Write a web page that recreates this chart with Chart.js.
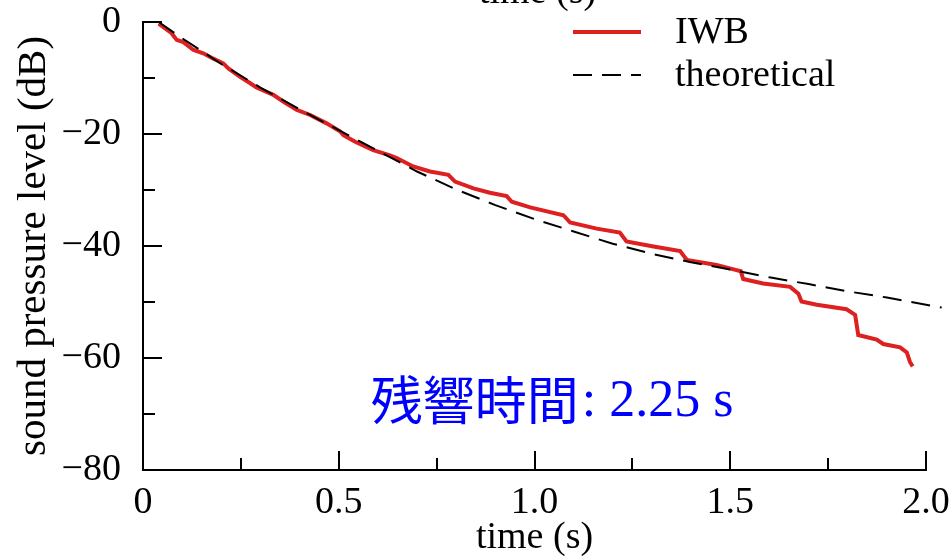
<!DOCTYPE html>
<html lang="en">
<head>
<meta charset="UTF-8">
<title>Sound pressure level decay</title>
<script src="https://cdn.jsdelivr.net/npm/chart.js"></script>
<style>
    html, body { margin: 0; padding: 0; background: #fff; }
</style>
</head>
<body>
<canvas id="decayChart" width="951" height="559"></canvas>
<script>
const iwbTime = [0.04, 0.073, 0.086, 0.103, 0.129, 0.154, 0.175, 0.205, 0.218, 0.248,
    0.273, 0.29, 0.333, 0.358, 0.393, 0.427, 0.469, 0.503, 0.512, 0.542,
    0.588, 0.631, 0.648, 0.69, 0.733, 0.78, 0.797, 0.844, 0.886, 0.929,
    0.942, 0.989, 1.074, 1.091, 1.159, 1.218, 1.235, 1.304, 1.372, 1.389,
    1.465, 1.516, 1.527, 1.533, 1.584, 1.653, 1.674, 1.682, 1.721, 1.797,
    1.819, 1.827, 1.874, 1.891, 1.934, 1.951, 1.959, 1.966];
const iwbLevel = [-0.3, -2.0, -3.2, -3.6, -5.0, -5.6, -6.4, -7.4, -8.3, -9.8,
    -10.9, -11.7, -13.0, -14.2, -15.7, -16.6, -18.1, -19.5, -20.2, -21.4,
    -22.9, -23.8, -24.3, -25.8, -26.7, -27.3, -28.5, -29.7, -30.5, -31.1,
    -32.1, -33.1, -34.5, -35.8, -36.9, -37.6, -39.2, -40.1, -40.9, -42.5,
    -43.4, -44.3, -44.5, -45.9, -46.7, -47.3, -48.5, -49.9, -50.5, -51.3,
    -52.3, -55.9, -56.7, -57.5, -58.1, -59.0, -60.7, -61.5];

// theoretical decay curve
const theoryTime = [0.04, 0.1, 0.2, 0.3, 0.4, 0.5, 0.6, 0.7, 0.8, 0.9, 1.0,
    1.1, 1.2, 1.3, 1.4, 1.5, 1.6, 1.7, 1.8, 1.9, 2.04];
const theoryLevel = [0, -2.9, -7.5, -11.7, -15.6, -19.3, -23.0, -26.7, -29.9, -32.7, -35.2,
    -37.4, -39.6, -41.4, -42.9, -44.2, -45.6, -46.8, -48.1, -49.2, -51.0];

const seriesNames = ['IWB', 'theoretical'];
const xTickLabels = [0, 0.5, 1.0, 1.5, 2.0];
const xTickMarks = [0.25, 0.5, 0.75, 1.0, 1.25, 1.5, 1.75, 2.0];
const yTickLabels = [0, -20, -40, -60, -80];
const yTickMarks = [0, -10, -20, -30, -40, -50, -60, -70];

const noteLabel = '残響時間';
const noteValue = ': 2.25 s';
const noteTime = 0.582;
const noteLevel = -67.5;

const SERIF = "'Liberation Serif', 'DejaVu Serif', serif";
const axisFont = { family: SERIF, size: 38 };

// ticks point into the plot, long ones where there's a label
const inwardTicks = {
    id: 'inwardTicks',
    afterDraw(chart) {
        const { ctx, chartArea, scales: { x, y } } = chart;
        ctx.save();
        ctx.strokeStyle = '#000';
        ctx.lineWidth = 2;
        ctx.beginPath();
        xTickMarks.forEach(v => {
            const px = Math.round(x.getPixelForValue(v));
            const len = xTickLabels.includes(v) ? 19 : 12;
            ctx.moveTo(px, chartArea.bottom);
            ctx.lineTo(px, chartArea.bottom - len);
        });
        yTickMarks.forEach(v => {
            const py = Math.round(y.getPixelForValue(v));
            const len = yTickLabels.includes(v) ? 19 : 12;
            ctx.moveTo(chartArea.left, py);
            ctx.lineTo(chartArea.left + len, py);
        });
        ctx.stroke();
        ctx.restore();
    }
};

// legend, the cut-off title at the top and the blue note
const extras = {
    id: 'extras',
    afterDraw(chart) {
        const { ctx, chartArea, scales: { x, y } } = chart;
        ctx.save();

        ctx.fillStyle = '#000';
        ctx.font = `38px ${SERIF}`;
        ctx.textAlign = 'center';
        ctx.textBaseline = 'alphabetic';
        ctx.fillText('time (s)', (chartArea.left + chartArea.right) / 2 + 3, 3);

        ctx.textAlign = 'left';
        chart.data.datasets.forEach((ds, i) => {
            const ly = 32 + i * 43;
            ctx.save();
            ctx.strokeStyle = ds.borderColor;
            ctx.lineWidth = ds.borderWidth;
            ctx.setLineDash(ds.borderDash || []);
            ctx.beginPath();
            ctx.moveTo(573, ly);
            ctx.lineTo(641, ly);
            ctx.stroke();
            ctx.restore();
            ctx.fillText(ds.label, 675, ly + 11);
        });

        const nx = x.getPixelForValue(noteTime);
        const ny = y.getPixelForValue(noteLevel);
        ctx.fillStyle = '#0000ff';
        ctx.textBaseline = 'middle';
        ctx.font = "52px 'Noto Sans CJK JP'";
        ctx.fillText(noteLabel, nx, ny);
        const w = ctx.measureText(noteLabel).width;
        ctx.font = `52px ${SERIF}`;
        ctx.fillText(noteValue, nx + w + 3, ny + 2);

        ctx.restore();
    }
};

const toPoints = (xs, ys) => xs.map((t, i) => ({ x: t, y: ys[i] }));

new Chart(document.getElementById('decayChart'), {
    type: 'line',
    data: {
        datasets: [{
            label: seriesNames[0],
            data: toPoints(iwbTime, iwbLevel),
            borderColor: '#dd2020',
            borderWidth: 4,
            pointRadius: 0,
            order: 1
        }, {
            label: seriesNames[1],
            data: toPoints(theoryTime, theoryLevel),
            borderColor: '#000',
            borderWidth: 2,
            borderDash: [19, 10],
            pointRadius: 0,
            clip: false,
            order: 0
        }]
    },
    options: {
        responsive: false,
        animation: false,
        layout: { padding: { top: 22, right: 25, bottom: 0, left: 0 } },
        plugins: {
            legend: { display: false },
            tooltip: { enabled: false }
        },
        scales: {
            x: {
                type: 'linear',
                min: 0,
                max: 2,
                afterBuildTicks: scale => { scale.ticks = xTickLabels.map(v => ({ value: v })); },
                afterFit: scale => {
                    scale.height = 89;
                    scale.paddingLeft = 0;
                    scale.paddingRight = 0;
                },
                grid: { drawOnChartArea: false, drawTicks: false },
                border: { display: true, color: '#000', width: 2 },
                ticks: {
                    color: '#000',
                    font: axisFont,
                    padding: 10,
                    maxRotation: 0,
                    callback: v => v === 0 ? '0' : v.toFixed(1)
                },
                title: {
                    display: true,
                    text: 'time (s)',
                    color: '#000',
                    font: axisFont,
                    padding: { top: 0, bottom: -2 }
                }
            },
            y: {
                min: -80,
                max: 0,
                afterBuildTicks: scale => { scale.ticks = yTickLabels.map(v => ({ value: v })); },
                afterFit: scale => {
                    scale.width = 143;
                    scale.paddingTop = 0;
                    scale.paddingBottom = 0;
                },
                grid: { drawOnChartArea: false, drawTicks: false },
                border: { display: true, color: '#000', width: 2 },
                ticks: {
                    color: '#000',
                    font: axisFont,
                    padding: 22,
                    callback: v => v === 0 ? '0' : '\u2212' + Math.abs(v)
                },
                title: {
                    display: true,
                    text: 'sound pressure level (dB)',
                    color: '#000',
                    font: { family: SERIF, size: 41 },
                    padding: { top: 10, bottom: 0 }
                }
            }
        }
    },
    plugins: [inwardTicks, extras]
});
</script>
</body>
</html>
